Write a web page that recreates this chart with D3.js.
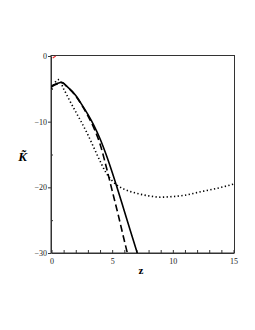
<!DOCTYPE html>
<html><head><meta charset="utf-8">
<script src="https://cdn.jsdelivr.net/npm/d3@7"></script>
<style>body{margin:0;background:#fff}svg{display:block}</style>
</head><body>
<script>
// ---- data ----
const solidZ = [0, 0.3, 0.6, 0.85, 1.25, 2, 2.5, 3, 3.5, 4, 4.5, 5, 5.5, 6, 6.5, 7.07];
const solidK = [-4.6, -4.3, -4.1, -4.0, -4.6, -6.0, -7.4, -8.9, -10.6, -12.6, -15.0, -17.7, -20.6, -23.6, -26.6, -30];
const dashedZ = [0, 0.3, 0.6, 0.9, 1.3, 2, 2.5, 3, 3.5, 4, 4.5, 5, 5.5, 6, 6.25];
const dashedK = [-4.7, -4.4, -4.2, -4.1, -4.7, -6.1, -7.5, -9.1, -11.0, -13.4, -16.8, -20.5, -24.2, -28.1, -30];
const dottedZ = [0, 0.3, 0.6, 1.0, 1.5, 2, 2.5, 3, 3.5, 4, 4.5, 5, 5.5, 6, 7, 8, 9, 10, 11, 12, 13, 14, 15];
const dottedK = [-5.0, -4.0, -3.6, -5.0, -6.8, -8.5, -10.2, -12.0, -14.0, -16.0, -17.8, -19.0, -19.8, -20.3, -20.9, -21.3, -21.5, -21.4, -21.2, -20.8, -20.4, -20.0, -19.5];
const redZ = [0.1, 0.35];
const redK = [-0.3, 0];
const xTicks = [0, 5, 10, 15];
const yTicks = [0, -10, -20, -30];
const xLabel = "z";
const yLabel = "K\u0303";

// ---- chart ----
const W = 255, H = 330;
const svg = d3.select("body").append("svg").attr("width", W).attr("height", H);
const x = d3.scaleLinear().domain([0, 15]).range([51.5, 233.5]);
const y = d3.scaleLinear().domain([-30, 0]).range([253, 56]);
const fr = {l: 51, r: 234.5, t: 55.5, b: 253};

// frame
svg.append("rect").attr("x", fr.l).attr("y", fr.t).attr("width", fr.r - fr.l).attr("height", fr.b - fr.t)
  .attr("fill", "none").attr("stroke", "#333").attr("stroke-width", 1);

// x axis
const xa = svg.append("g").attr("transform", `translate(0,${fr.b})`)
  .call(d3.axisBottom(x).tickValues(d3.range(0, 16, 1)).tickSize(-3).tickSizeOuter(0)
    .tickFormat(d => xTicks.includes(d) ? d : ""));
xa.select(".domain").attr("stroke", "#333");
xa.selectAll(".tick line").attr("stroke", "#333");
xa.selectAll("text").attr("y", 5).attr("font-family", "Liberation Serif, serif").attr("font-size", 8).attr("fill", "#222");

// y axis
const ya = svg.append("g").attr("transform", `translate(${fr.l},0)`)
  .call(d3.axisLeft(y).tickValues(yTicks).tickSize(3).tickSizeOuter(0).tickPadding(1)
    .tickFormat(d => d < 0 ? "\u2212" + (-d) : d));
ya.select(".domain").attr("stroke", "#333");
ya.selectAll(".tick line").attr("stroke", "#333");
ya.selectAll("text").attr("font-family", "Liberation Serif, serif").attr("font-size", 8).attr("fill", "#222");
const yMinor = svg.append("g").attr("transform", `translate(${fr.l},0)`)
  .call(d3.axisRight(y).tickValues([-5, -15, -25]).tickSize(2).tickFormat(""));
yMinor.select(".domain").remove();
yMinor.selectAll(".tick line").attr("stroke", "#333");

// curves
const line = d3.line().x(d => x(d[0])).y(d => y(d[1])).curve(d3.curveMonotoneX);
svg.append("clipPath").attr("id", "c").append("rect")
  .attr("x", fr.l).attr("y", fr.t).attr("width", fr.r - fr.l).attr("height", fr.b - fr.t);
const g = svg.append("g").attr("clip-path", "url(#c)");
g.append("path").datum(d3.zip(dottedZ, dottedK)).attr("d", line)
  .attr("fill", "none").attr("stroke", "#000").attr("stroke-width", 1.6).attr("stroke-dasharray", "1.3,2.4");
g.append("path").datum(d3.zip(dashedZ, dashedK)).attr("d", line)
  .attr("fill", "none").attr("stroke", "#000").attr("stroke-width", 1.6).attr("stroke-dasharray", "7,3.5");
g.append("path").datum(d3.zip(solidZ, solidK)).attr("d", line)
  .attr("fill", "none").attr("stroke", "#000").attr("stroke-width", 1.6);
g.append("path").datum(d3.zip(redZ, redK)).attr("d", d3.line().x(d => x(d[0])).y(d => y(d[1])))
  .attr("fill", "none").attr("stroke", "#e33").attr("stroke-width", 1.2);

// labels
svg.append("text").attr("x", 141).attr("y", 274).attr("text-anchor", "middle")
  .attr("font-family", "Liberation Serif, serif").attr("font-weight", "bold").attr("font-size", 11).text(xLabel);
svg.append("text").attr("x", 22.5).attr("y", 161).attr("text-anchor", "middle")
  .attr("font-family", "Liberation Serif, serif").attr("font-weight", "bold").attr("font-style", "italic")
  .attr("font-size", 13).text(yLabel);
</script>
</body></html>
